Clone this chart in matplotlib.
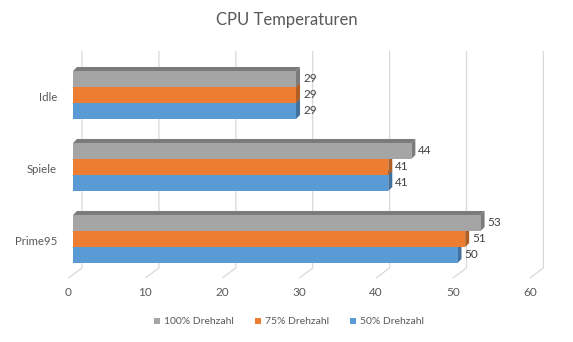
import matplotlib.pyplot as plt
from matplotlib.patches import Polygon, Patch

plt.rcParams['font.family'] = ['Lato', 'DejaVu Sans']

# Chart data
categories = ['Idle', 'Spiele', 'Prime95']
series_names = ['100% Drehzahl', '75% Drehzahl', '50% Drehzahl']
temp_100 = [29, 44, 53]
temp_75 = [29, 41, 51]
temp_50 = [29, 41, 50]
x_ticks = [0, 10, 20, 30, 40, 50, 60]

front_colors = ['#a5a5a5', '#ed7d31', '#5b9bd5']
side_colors = ['#7b7b7b', '#b15e24', '#41719c']
text_color = '#595959'

W, H = 573, 342
fig = plt.figure(figsize=(W / 100, H / 100), dpi=100)

# axes box in pixels (front plane of the bars)
left, right, top, bottom = 73, 534.4, 51, 278
ax = fig.add_axes([left / W, 1 - bottom / H, (right - left) / W, (bottom - top) / H])
ymin, ymax = 2.542, -0.611
ax.set_xlim(0, 60)
ax.set_ylim(ymin, ymax)
ax.axis('off')

px_x = (right - left) / 60.0          # pixels per unit on x
px_y = (bottom - top) / (ymin - ymax)  # pixels per category step
depth_x = 4 / px_x
depth_y = 4 / px_y
h = 16 / px_y

# gridlines: back wall verticals plus diagonal to the front floor
back_dx = 9 / px_x
front_dx = -4.5 / px_x
floor_back = 2 + 29 / px_y
for t in x_ticks:
    ax.plot([t + back_dx, t + back_dx, t + front_dx], [ymax, floor_back, ymin],
            color='#d9d9d9', lw=0.9, zorder=0, clip_on=False, solid_capstyle='butt')
    ax.text(t + front_dx, ymin + 15 / px_y, str(t), ha='center', va='center',
            fontsize=8.5, color=text_color, clip_on=False)

# bars: draw lowest first so the upper ones cover hidden faces
series = [temp_100, temp_75, temp_50]
offsets = [-h, 0, h]
z = 2
for s in [2, 1, 0]:
    ys = [i + offsets[s] for i in range(len(categories))]
    for y, v in zip(ys, series[s]):
        yt, yb = y - h / 2, y + h / 2
        ax.add_patch(Polygon([(v, yb), (v, yt), (v + depth_x, yt - depth_y), (v + depth_x, yb - depth_y)],
                             closed=True, facecolor=side_colors[s], edgecolor='none', zorder=z))
        ax.add_patch(Polygon([(0, yt), (v, yt), (v + depth_x, yt - depth_y), (depth_x, yt - depth_y)],
                             closed=True, facecolor=side_colors[s], edgecolor='none', zorder=z))
        ax.text(v + 7 / px_x, y, str(v), ha='left', va='center', fontsize=8.5,
                color='#404040', zorder=10)
    ax.barh(ys, series[s], height=h, color=front_colors[s], edgecolor='none', zorder=z + 1)
    z += 2

for i, c in enumerate(categories):
    ax.text(-16 / px_x, i + 3 / px_y, c, ha='right', va='center', fontsize=8.2,
            color=text_color, clip_on=False)

fig.text(287 / W, 1 - 20 / H, 'CPU Temperaturen', ha='center', va='center',
         fontsize=12, color=text_color)

handles = [Patch(facecolor=front_colors[k], edgecolor='none') for k in range(3)]
fig.legend(handles, series_names, loc='center', bbox_to_anchor=(289 / W, 1 - 322 / H),
           ncol=3, frameon=False, fontsize=7.5, handlelength=0.6, handleheight=0.6,
           handletextpad=0.4, columnspacing=2.0, labelcolor=text_color)

fig.savefig('out.png', dpi=100)
